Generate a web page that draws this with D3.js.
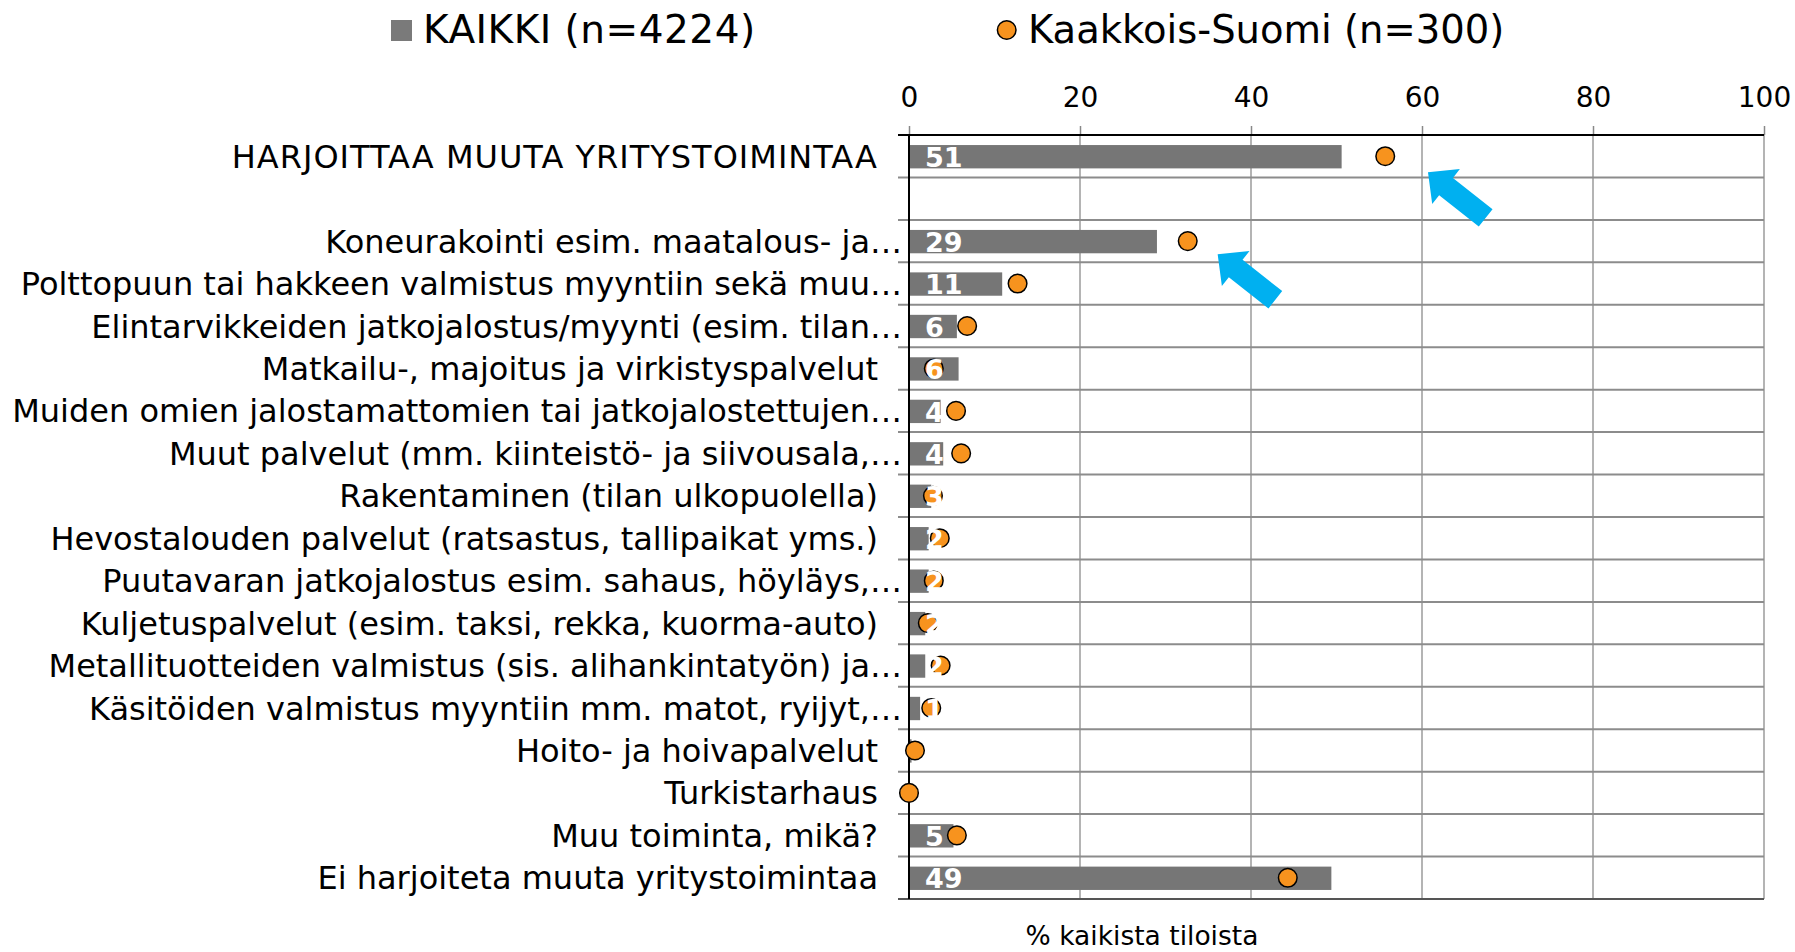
<!DOCTYPE html>
<html>
<head>
<meta charset="utf-8">
<script src="https://cdn.jsdelivr.net/npm/d3@7"></script>
<style>
  body { margin: 0; background: #fff; }
  svg text { font-family: "DejaVu Sans", Verdana, sans-serif; }
</style>
</head>
<body>
<script>
var categories = [
  "HARJOITTAA MUUTA YRITYSTOIMINTAA",
  "",
  "Koneurakointi esim. maatalous- ja…",
  "Polttopuun tai hakkeen valmistus myyntiin sekä muu…",
  "Elintarvikkeiden jatkojalostus/myynti (esim. tilan…",
  "Matkailu-, majoitus ja virkistyspalvelut",
  "Muiden omien jalostamattomien tai jatkojalostettujen…",
  "Muut palvelut (mm. kiinteistö- ja siivousala,…",
  "Rakentaminen (tilan ulkopuolella)",
  "Hevostalouden palvelut (ratsastus, tallipaikat yms.)",
  "Puutavaran jatkojalostus esim. sahaus, höyläys,…",
  "Kuljetuspalvelut (esim. taksi, rekka, kuorma-auto)",
  "Metallituotteiden valmistus (sis. alihankintatyön) ja…",
  "Käsitöiden valmistus myyntiin mm. matot, ryijyt,…",
  "Hoito- ja hoivapalvelut",
  "Turkistarhaus",
  "Muu toiminta, mikä?",
  "Ei harjoiteta muuta yritystoimintaa"
];
var kaikki = [ 50.6, null, 29.0, 10.9, 5.6, 5.8, 3.7, 4.0, 2.6, 2.3, 2.3, 1.9, 1.9, 1.3, 0.3, 0, 5.2, 49.4 ];
var kaakkoisSuomi = [ 55.7, null, 32.6, 12.7, 6.8, 2.9, 5.5, 6.1, 2.8, 3.6, 2.9, 2.2, 3.7, 2.6, 0.7, 0, 5.6, 44.3 ];
var seriesNames = [ "KAIKKI (n=4224)", "Kaakkois-Suomi (n=300)" ];
var xTicks = [ 0, 20, 40, 60, 80, 100 ];
var axisTitle = "% kaikista tiloista";
// arrow tips, in axis value / row units
var arrowTips = [ { x: 60.7, row: 0.88 }, { x: 36.1, row: 2.81 } ];

var W = 1795, H = 952;
var plotLeft = 909, plotRight = 1764, plotTop = 135, plotBottom = 899;
var barColor = "#767676", dotColor = "#f7931e", arrowColor = "#00b0f0";

var svg = d3.select( "body" )
  .append( "svg" )
  .attr( "width", W )
  .attr( "height", H );

var x = d3.scaleLinear().domain( [ 0, 100 ] ).range( [ plotLeft, plotRight ] );
var y = d3.scaleBand().domain( d3.range( categories.length ) ).range( [ plotTop, plotBottom ] );
var yRow = d3.scaleLinear().domain( [ 0, categories.length ] ).range( [ plotTop, plotBottom ] );

// vertical grid
svg.append( "g" )
  .selectAll( "line" )
  .data( xTicks.slice( 1 ) )
  .join( "line" )
  .attr( "x1", d => x( d ) ).attr( "x2", d => x( d ) )
  .attr( "y1", plotTop ).attr( "y2", plotBottom )
  .attr( "stroke", "#b4b4b4" ).attr( "stroke-width", 2 );

// row lines with the little ticks left of the axis
svg.append( "g" )
  .selectAll( "line" )
  .data( d3.range( 1, categories.length + 1 ) )
  .join( "line" )
  .attr( "x1", plotLeft - 11 ).attr( "x2", plotRight )
  .attr( "y1", d => yRow( d ) ).attr( "y2", d => yRow( d ) )
  .attr( "stroke", d => d === categories.length ? "#555" : "#8c8c8c" )
  .attr( "stroke-width", 2 );

// top axis
var xAxis = d3.axisTop( x )
  .tickValues( xTicks )
  .tickSize( 9 )
  .tickPadding( 19 );
var gx = svg.append( "g" )
  .attr( "transform", "translate(0," + plotTop + ")" )
  .call( xAxis );
gx.select( ".domain" ).remove();
gx.selectAll( ".tick line" ).attr( "stroke", "#888" ).attr( "stroke-width", 1.5 );
gx.selectAll( ".tick text" )
  .attr( "font-size", 28 )
  .attr( "font-family", "DejaVu Sans, Verdana, sans-serif" )
  .attr( "fill", "#000" );
svg.append( "line" )
  .attr( "x1", plotLeft - 11 ).attr( "x2", plotRight )
  .attr( "y1", plotTop ).attr( "y2", plotTop )
  .attr( "stroke", "#000" ).attr( "stroke-width", 2 );

// bars
var rows = categories.map( function( c, i ){
  return { i: i, name: c, a: kaikki[ i ], b: kaakkoisSuomi[ i ] };
} );
var bh = y.bandwidth() * 0.55;

svg.append( "g" )
  .selectAll( "rect" )
  .data( rows.filter( d => d.a != null ) )
  .join( "rect" )
  .attr( "x", x( 0 ) )
  .attr( "y", d => y( d.i ) + ( y.bandwidth() - bh ) / 2 + 0.5 )
  .attr( "width", d => x( d.a ) - x( 0 ) )
  .attr( "height", bh )
  .attr( "fill", barColor );

// y axis line
svg.append( "line" )
  .attr( "x1", plotLeft ).attr( "x2", plotLeft )
  .attr( "y1", plotTop ).attr( "y2", plotBottom )
  .attr( "stroke", "#000" ).attr( "stroke-width", 2 );

// dots
svg.append( "g" )
  .selectAll( "circle" )
  .data( rows.filter( d => d.b != null ) )
  .join( "circle" )
  .attr( "cx", d => x( d.b ) )
  .attr( "cy", d => y( d.i ) + y.bandwidth() / 2 )
  .attr( "r", 9.3 )
  .attr( "fill", dotColor )
  .attr( "stroke", "#000" )
  .attr( "stroke-width", 1.5 );

// value labels (drawn over the dots, like the original)
svg.append( "g" )
  .selectAll( "text" )
  .data( rows.filter( d => d.a != null ) )
  .join( "text" )
  .attr( "x", x( 0 ) + 16 )
  .attr( "y", d => y( d.i ) + y.bandwidth() / 2 + 1 )
  .attr( "dy", "0.36em" )
  .attr( "font-size", 27 )
  .attr( "font-weight", "bold" )
  .attr( "fill", "#fff" )
  .text( d => d3.format( ".0f" )( d.a ) );

// category labels
svg.append( "g" )
  .selectAll( "text" )
  .data( rows )
  .join( "text" )
  .attr( "x", d => d.name.slice( -1 ) === "…" ? plotLeft - 7 : plotLeft - 31 )
  .attr( "y", d => y( d.i ) + y.bandwidth() / 2 )
  .attr( "dy", "0.36em" )
  .attr( "text-anchor", "end" )
  .attr( "font-size", 32 )
  .attr( "letter-spacing", d => d.name && d.name === d.name.toUpperCase() ? 1 : 0 )
  .attr( "fill", "#000" )
  .text( d => d.name );

// arrows
var arrowShape = [ [ 0, 0 ], [ -23, -22.3 ], [ -23, -11.1 ], [ -73.5, -11.1 ], [ -73.5, 11.1 ], [ -23, 11.1 ], [ -23, 22.3 ] ];
svg.append( "g" )
  .selectAll( "path" )
  .data( arrowTips )
  .join( "path" )
  .attr( "d", "M" + arrowShape.join( "L" ) + "Z" )
  .attr( "transform", d => "translate(" + x( d.x ) + "," + yRow( d.row ) + ") rotate(218.3)" )
  .attr( "fill", arrowColor );

// axis title
svg.append( "text" )
  .attr( "x", 1142 )
  .attr( "y", 945 )
  .attr( "text-anchor", "middle" )
  .attr( "font-size", 26.5 )
  .attr( "fill", "#000" )
  .text( axisTitle );

// legend
var legend = svg.append( "g" );
legend.append( "rect" )
  .attr( "x", 391 ).attr( "y", 20 )
  .attr( "width", 21 ).attr( "height", 21 )
  .attr( "fill", "#7a7a7a" );
legend.append( "text" )
  .attr( "x", 423 ).attr( "y", 43 )
  .attr( "font-size", 39 )
  .attr( "letter-spacing", 0.5 )
  .text( seriesNames[ 0 ] );
legend.append( "circle" )
  .attr( "cx", 1006.7 ).attr( "cy", 30 ).attr( "r", 9.3 )
  .attr( "fill", dotColor ).attr( "stroke", "#000" ).attr( "stroke-width", 1.5 );
legend.append( "text" )
  .attr( "x", 1028 ).attr( "y", 43 )
  .attr( "font-size", 38.5 )
  .text( seriesNames[ 1 ] );
</script>
</body>
</html>
